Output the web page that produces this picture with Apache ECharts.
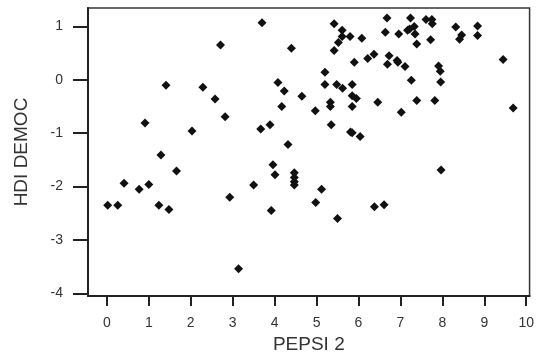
<!DOCTYPE html>
<html>
<head>
<meta charset="utf-8">
<script src="https://cdn.jsdelivr.net/npm/echarts@6/dist/echarts.min.js"></script>
<style>
  html, body { margin: 0; padding: 0; background: #fff; }
  #chart { width: 537px; height: 359px; }
</style>
</head>
<body>
<div id="chart"></div>
<script>
// PEPSI 2 values (x)
var pepsi = [
  0.02, 0.26, 0.41, 0.77, 0.91, 1.00, 1.24, 1.29, 1.41, 1.48,
  1.66, 2.03, 2.29, 2.58, 2.71, 2.82, 2.93, 3.14, 3.50, 3.67,
  3.70, 3.89, 3.92, 3.96, 4.01, 4.08, 4.17, 4.23, 4.32, 4.40,
  4.47, 4.47, 4.47, 4.47, 4.65, 4.97, 4.98, 5.12, 5.20, 5.20,
  5.33, 5.33, 5.35, 5.42, 5.42, 5.48, 5.50, 5.52, 5.61, 5.61,
  5.62, 5.80, 5.81, 5.85, 5.85, 5.85, 5.85, 5.90, 5.95, 6.04,
  6.08, 6.22, 6.37, 6.38, 6.46, 6.61, 6.64, 6.68, 6.69, 6.73,
  6.92, 6.94, 6.96, 7.02, 7.11, 7.17, 7.22, 7.24, 7.26, 7.33,
  7.35, 7.39, 7.39, 7.61, 7.75, 7.76, 7.72, 7.82, 7.91, 7.95,
  7.96, 7.97, 8.32, 8.41, 8.46, 8.84, 8.84, 9.45, 9.69
];
// HDI DEMOC values (y)
var hdi = [
  -2.35, -2.35, -1.94, -2.05, -0.81, -1.96, -2.35, -1.41, -0.10, -2.43,
  -1.71, -0.96, -0.14, -0.36, 0.65, -0.69, -2.20, -3.54, -1.97, -0.92,
  1.07, -0.84, -2.45, -1.59, -1.78, -0.05, -0.50, -0.21, -1.21, 0.59,
  -1.74, -1.83, -1.91, -1.97, -0.31, -0.58, -2.30, -2.05, 0.14, -0.09,
  -0.42, -0.50, -0.84, 1.05, 0.55, -0.09, -2.60, 0.70, 0.93, 0.81,
  -0.16, 0.81, -0.98, -0.99, -0.09, -0.30, -0.50, 0.33, -0.35, -1.06,
  0.78, 0.40, 0.48, -2.38, -0.42, -2.34, 0.89, 1.16, 0.29, 0.45,
  0.36, 0.33, 0.86, -0.61, 0.25, 0.93, 0.95, 1.16, -0.01, 1.00,
  0.86, 0.67, -0.39, 1.13, 1.13, 1.05, 0.75, -0.39, 0.26, 0.16,
  -0.04, -1.69, 0.99, 0.76, 0.84, 1.01, 0.83, 0.38, -0.53
];
var xTicks = [0, 1, 2, 3, 4, 5, 6, 7, 8, 9, 10];
var yTicks = [-4, -3, -2, -1, 0, 1];

var points = [];
for (var i = 0; i < pepsi.length; i++) {
  points.push([pepsi[i], hdi[i]]);
}

var font = 'Liberation Sans, Arial, Helvetica, sans-serif';
var myChart = echarts.init(document.getElementById('chart'));
myChart.setOption({
  animation: false,
  grid: {
    left: 88, right: 2, top: 8, bottom: 63,
    show: true,
    borderColor: '#333',
    borderWidth: 1.5
  },
  xAxis: {
    type: 'value',
    min: -0.45,
    max: 10.08,
    interval: 1,
    name: 'PEPSI 2',
    nameLocation: 'middle',
    nameGap: 37,
    nameTextStyle: { fontFamily: font, fontSize: 19, color: '#333' },
    axisLine: { show: true, onZero: false, lineStyle: { color: '#222', width: 2 } },
    axisTick: { show: true, length: 10, lineStyle: { color: '#222', width: 2 },
      customValues: xTicks },
    axisLabel: { fontFamily: font, fontSize: 14, color: '#333', margin: 20,
      customValues: xTicks, showMinLabel: true, showMaxLabel: true },
    splitLine: { show: false }
  },
  yAxis: {
    type: 'value',
    min: -4.05,
    max: 1.345,
    name: 'HDI DEMOC',
    nameLocation: 'middle',
    nameGap: 57,
    nameTextStyle: { fontFamily: font, fontSize: 19, color: '#333' },
    axisLine: { show: true, onZero: false, lineStyle: { color: '#222', width: 2 } },
    axisTick: { show: true, length: 15, lineStyle: { color: '#222', width: 2 },
      customValues: yTicks },
    axisLabel: { fontFamily: font, fontSize: 14, color: '#333', margin: 25,
      customValues: yTicks },
    splitLine: { show: false }
  },
  series: [{
    type: 'scatter',
    symbol: 'diamond',
    symbolSize: 9,
    itemStyle: { color: '#111', opacity: 1 },
    data: points
  }]
});
</script>
</body>
</html>
